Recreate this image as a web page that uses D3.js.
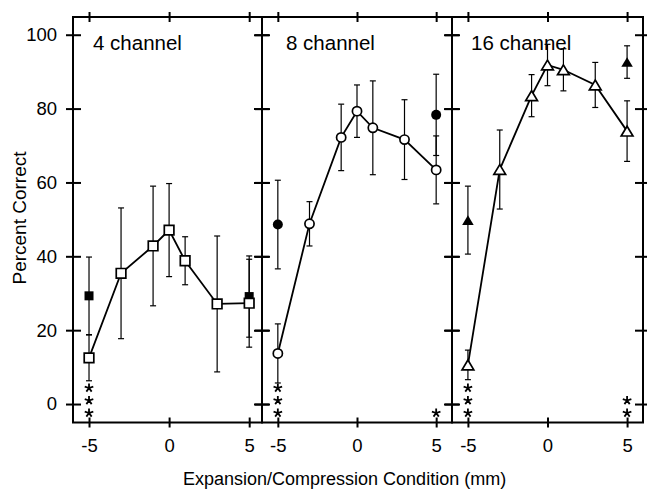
<!DOCTYPE html>
<html><head><meta charset="utf-8">
<script src="https://cdn.jsdelivr.net/npm/d3@7"></script>
<style>
body{margin:0;background:#fff}
svg{display:block;background:#fff}
text{font-family:"Liberation Sans",Arial,Helvetica,sans-serif;fill:#000}
</style>
</head><body><svg id="c" width="647" height="489"></svg>
<script>
// ---- data ----
const conditions = [-5, -3, -1, 0, 1, 3, 5];
const xTickValues = [-5, 0, 5];
const xTickLabels = ["-5", "0", "5"];
const yTickValues = [0, 20, 40, 60, 80, 100];
const yTickLabels = ["0", "20", "40", "60", "80", "100"];
const panelLabels = ["4 channel", "8 channel", "16 channel"];

const ch4Open = [12.5, 35.4, 42.8, 47.1, 38.8, 27.1, 27.3];
const ch4OpenErr = [6.2, 17.7, 16.2, 12.6, 6.5, 18.4, 11.9];
const ch8Open = [13.7, 48.8, 72.2, 79.3, 74.8, 71.6, 63.4];
const ch8OpenErr = [8.0, 6.0, 9.0, 7.1, 12.7, 10.8, 9.2];
const ch16Open = [10.6, 63.5, 83.5, 91.8, 90.5, 86.4, 73.9];
const ch16OpenErr = [4.0, 10.7, 5.7, 5.6, 5.7, 6.1, 8.2];

const filledConditions = [-5, 5];
const ch4Filled = [29.3, 29.1];
const ch4FilledErr = [10.5, 11.0];
const ch8Filled = [48.6, 78.3];
const ch8FilledErr = [12.0, 11.0];
const ch16Filled = [49.8, 92.6];
const ch16FilledErr = [9.2, 4.4];

// significance stars: condition -> number of stars
const ch4StarX = [-5], ch4StarN = [3];
const ch8StarX = [-5, 5], ch8StarN = [3, 1];
const ch16StarX = [-5, 5], ch16StarN = [3, 2];

// ---- layout ----
const svg = d3.select("#c");
const plotTop = 17, plotBottom = 422.5;
const y = d3.scaleLinear().domain([-5, 104.8]).range([plotBottom, plotTop]);

const panelEdges = [[73, 262], [262, 452], [452, 643]];
const panelDomains = [[-6, 5.8], [-6, 6], [-6, 6]];
const markerKinds = ["square", "circle", "triangle"];

const openVals = [ch4Open, ch8Open, ch16Open];
const openErrs = [ch4OpenErr, ch8OpenErr, ch16OpenErr];
const filledVals = [ch4Filled, ch8Filled, ch16Filled];
const filledErrs = [ch4FilledErr, ch8FilledErr, ch16FilledErr];
const starXs = [ch4StarX, ch8StarX, ch16StarX];
const starNs = [ch4StarN, ch8StarN, ch16StarN];

// symbol types (size parameter used as half-size in px)
const sqType = {draw(ctx, r){ ctx.rect(-r, -r, 2*r, 2*r); }};
const circType = {draw(ctx, r){ ctx.moveTo(r, 0); ctx.arc(0, 0, r, 0, 2*Math.PI); }};
const triType = {draw(ctx, r){ ctx.moveTo(0, -r); ctx.lineTo(1.2*r, r); ctx.lineTo(-1.2*r, r); ctx.closePath(); }};
const starType = {draw(ctx, r){
  for (let i = 0; i < 5; i++) {
    const a = -Math.PI/2 + i*2*Math.PI/5;
    ctx.moveTo(0, 0); ctx.lineTo(r*Math.cos(a), r*Math.sin(a));
  }
}};
const openSpec = {square:[sqType, 4.8], circle:[circType, 4.6], triangle:[triType, 4.9]};
const filledSpec = {square:[sqType, 4.5], circle:[circType, 5.0], triangle:[triType, 4.8]};

const labelOffsets = [20, 24, 19];

panelEdges.forEach((edge, p) => {
  const [left, right] = edge;
  const x = d3.scaleLinear().domain(panelDomains[p]).range([left, right]);
  const g = svg.append("g");
  const open = conditions.map((c, i) => ({c, v: openVals[p][i], e: openErrs[p][i]}));
  const filled = filledConditions.map((c, i) => ({c, v: filledVals[p][i], e: filledErrs[p][i]}));

  // error bars
  const eb = g.append("g").attr("stroke", "#000").attr("stroke-width", 1.2).attr("fill", "none");
  [...filled, ...open].forEach(d => {
    const cx = x(d.c), y1 = y(d.v - d.e), y2 = y(d.v + d.e);
    eb.append("line").attr("x1", cx).attr("x2", cx).attr("y1", y1).attr("y2", y2);
    eb.append("line").attr("x1", cx-3).attr("x2", cx+3).attr("y1", y1).attr("y2", y1);
    eb.append("line").attr("x1", cx-3).attr("x2", cx+3).attr("y1", y2).attr("y2", y2);
  });

  // connecting line
  g.append("path").datum(open)
    .attr("d", d3.line().x(d => x(d.c)).y(d => y(d.v)))
    .attr("fill", "none").attr("stroke", "#000").attr("stroke-width", 1.8);

  // filled markers
  const fs = filledSpec[markerKinds[p]];
  g.selectAll(".fm").data(filled).join("path")
    .attr("transform", d => `translate(${x(d.c)},${y(d.v)})`)
    .attr("d", d3.symbol().type(fs[0]).size(fs[1]))
    .attr("fill", "#000");

  // open markers
  const os = openSpec[markerKinds[p]];
  g.selectAll(".om").data(open).join("path")
    .attr("transform", d => `translate(${x(d.c)},${y(d.v)})`)
    .attr("d", d3.symbol().type(os[0]).size(os[1]))
    .attr("fill", "#fff").attr("stroke", "#000").attr("stroke-width", 1.7);

  // stars
  const stars = [];
  starXs[p].forEach((c, i) => { for (let k = 0; k < starNs[p][i]; k++) stars.push({c, k}); });
  g.selectAll(".st").data(stars).join("path")
    .attr("transform", d => `translate(${x(d.c)},${plotBottom - 9.5 - d.k*12.5})`)
    .attr("d", d3.symbol().type(starType).size(4.5))
    .attr("fill", "none").attr("stroke", "#000").attr("stroke-width", 1.8);

  // frame
  g.append("rect").attr("x", left).attr("y", plotTop).attr("width", right-left).attr("height", plotBottom-plotTop)
    .attr("fill", "none").attr("stroke", "#000").attr("stroke-width", 2);

  // crossing ticks via axes
  const tickStyle = sel => { sel.select(".domain").remove(); sel.selectAll("line").attr("stroke", "#000").attr("stroke-width", 2); };
  g.append("g").attr("transform", `translate(${left+8},0)`)
    .call(d3.axisLeft(y).tickValues(yTickValues).tickSize(15).tickFormat("")).call(tickStyle);
  g.append("g").attr("transform", `translate(${right-8},0)`)
    .call(d3.axisRight(y).tickValues(yTickValues).tickSize(15).tickFormat("")).call(tickStyle);
  g.append("g").attr("transform", `translate(0,${plotBottom-5})`)
    .call(d3.axisBottom(x).tickValues(xTickValues).tickSize(10).tickFormat("")).call(tickStyle);
  g.append("g").attr("transform", `translate(0,${plotTop+5})`)
    .call(d3.axisTop(x).tickValues(xTickValues).tickSize(10).tickFormat("")).call(tickStyle);

  // x tick labels
  const xl = g.append("g").attr("transform", `translate(0,${plotBottom})`)
    .call(d3.axisBottom(x).tickValues(xTickValues).tickSize(0).tickPadding(16.4)
      .tickFormat((d, i) => xTickLabels[i]));
  xl.select(".domain").remove();
  xl.selectAll("text").attr("font-size", 18.5).attr("font-family", null).attr("fill", "#000");

  // y tick labels (first panel only)
  if (p === 0) {
    const yl = g.append("g").attr("transform", `translate(${left},0)`)
      .call(d3.axisLeft(y).tickValues(yTickValues).tickSize(0).tickPadding(16)
        .tickFormat((d, i) => yTickLabels[i]));
    yl.select(".domain").remove();
    yl.selectAll("text").attr("font-size", 18.5).attr("font-family", null).attr("fill", "#000");
  }

  // panel label
  g.append("text").attr("x", left + labelOffsets[p]).attr("y", 50)
    .attr("font-size", 20.5).text(panelLabels[p]);
});

// axis titles
svg.append("text").attr("x", 183).attr("y", 485).attr("font-size", 18)
  .text("Expansion/Compression Condition (mm)");
svg.append("text").attr("transform", "translate(26,218) rotate(-90)")
  .attr("text-anchor", "middle").attr("font-size", 19)
  .text("Percent Correct");
</script>
</body></html>
